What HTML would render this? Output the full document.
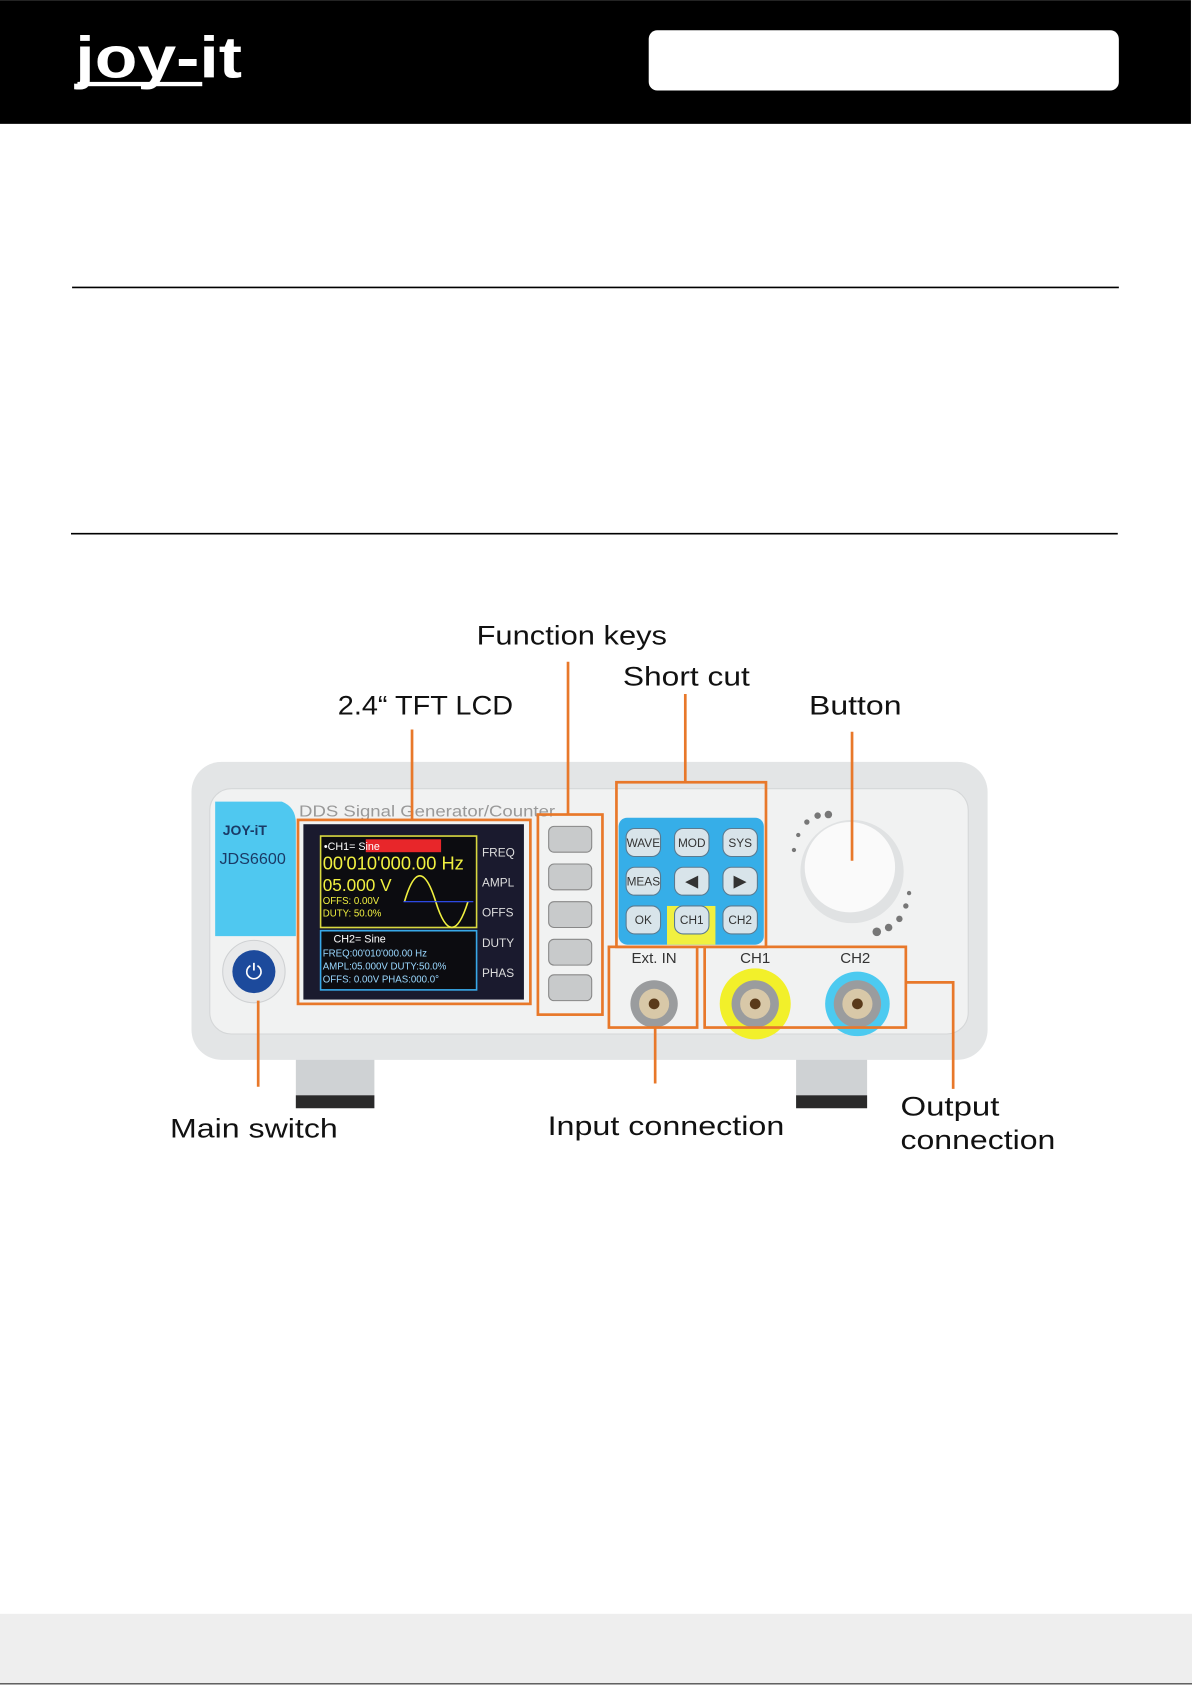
<!DOCTYPE html>
<html><head><meta charset="utf-8"><style>
html,body{margin:0;padding:0;background:#fff}
svg{display:block}
text{font-family:"Liberation Sans",sans-serif}
</style></head><body>
<svg width="1192" height="1685" viewBox="0 0 1108 1566" xmlns="http://www.w3.org/2000/svg">
<rect x="0" y="0" width="1107" height="115" fill="#000"/>
<g fill="#fff">
<text x="70" y="72" font-size="54" font-weight="bold" textLength="155" lengthAdjust="spacingAndGlyphs">joy-it</text>
<rect x="72" y="76" width="116" height="4"/>
<rect x="603" y="28" width="437" height="56" rx="8"/>
</g>
<line x1="67" y1="267" x2="1040" y2="267" stroke="#000" stroke-width="1.5"/>
<line x1="66" y1="496" x2="1039" y2="496" stroke="#000" stroke-width="1.5"/>
<rect x="0" y="1500" width="1108" height="66" fill="#eeeeee"/>
<line x1="0" y1="1565" x2="1108" y2="1565" stroke="#333" stroke-width="1"/>

<!-- device -->
<rect x="275" y="975" width="73" height="55" fill="#cfd2d4"/>
<rect x="275" y="1018" width="73" height="12" fill="#2a2a2a"/>
<rect x="740" y="975" width="66" height="55" fill="#cfd2d4"/>
<rect x="740" y="1018" width="66" height="12" fill="#2a2a2a"/>
<rect x="178" y="708" width="740" height="277" rx="28" fill="#e3e5e6"/>
<rect x="195" y="733" width="705" height="228" rx="20" fill="#f1f2f2" stroke="#d5d7d8"/>
<path d="M200 745 L262 745 Q275 750 275 765 L275 870 L200 870 Z" fill="#4fc8f0"/>
<text x="207" y="776" font-size="13" font-weight="bold" fill="#1a3a66">JOY-iT</text>
<text x="204" y="803" font-size="15" fill="#1a3a66">JDS6600</text>
<circle cx="236" cy="903" r="29" fill="#e8e9ea" stroke="#cfd1d3"/>
<circle cx="236" cy="903" r="20" fill="#1c4a9c"/>
<text x="236" y="910" font-size="20" fill="#fff" text-anchor="middle">⏻</text>
<text x="278" y="759" font-size="15" fill="#999" textLength="238" lengthAdjust="spacingAndGlyphs">DDS Signal Generator/Counter</text>
<!-- LCD -->
<rect x="282" y="766" width="205" height="163" fill="#1a1a2e"/>
<rect x="298" y="777" width="145" height="85" fill="#0c0c10" stroke="#d8d840" stroke-width="1.5"/>
<rect x="340" y="780" width="70" height="12" fill="#e8262a"/>
<text x="301" y="790" font-size="10" fill="#fff">•CH1=       Sine</text>
<text x="300" y="808" font-size="17" fill="#f0f040">00'010'000.00 Hz</text>
<text x="300" y="828" font-size="16" fill="#f0f040">05.000 V</text>
<text x="300" y="840" font-size="9" fill="#f0f040">OFFS: 0.00V</text>
<text x="300" y="852" font-size="9" fill="#f0f040">DUTY: 50.0%</text>
<path d="M376 838 Q390 790 405 838 Q420 886 435 838" fill="none" stroke="#f0f040" stroke-width="1.5"/>
<line x1="375" y1="838" x2="440" y2="838" stroke="#3050ff"/>
<rect x="298" y="865" width="145" height="55" fill="#0c0c10" stroke="#38a8e8" stroke-width="1.5"/>
<text x="310" y="876" font-size="10" fill="#fff">CH2=    Sine</text>
<text x="300" y="889" font-size="9" fill="#9ad8ff">FREQ:00'010'000.00 Hz</text>
<text x="300" y="901" font-size="9" fill="#9ad8ff">AMPL:05.000V DUTY:50.0%</text>
<text x="300" y="913" font-size="9" fill="#9ad8ff">OFFS: 0.00V PHAS:000.0°</text>
<g font-size="11" fill="#ddd">
<text x="448" y="796">FREQ</text><text x="448" y="824">AMPL</text><text x="448" y="852">OFFS</text><text x="448" y="880">DUTY</text><text x="448" y="908">PHAS</text>
</g>
<g fill="#c8cacb" stroke="#888">
<rect x="510" y="768" width="40" height="24" rx="5"/><rect x="510" y="803" width="40" height="24" rx="5"/><rect x="510" y="838" width="40" height="24" rx="5"/><rect x="510" y="873" width="40" height="24" rx="5"/><rect x="510" y="906" width="40" height="24" rx="5"/>
</g>
<!-- keypad -->
<rect x="575" y="760" width="135" height="118" rx="8" fill="#36aee8"/>
<rect x="620" y="842" width="45" height="36" fill="#f0f040"/>
<g fill="#d8e4ea" stroke="#5a7a90">
<rect x="582" y="770" width="32" height="26" rx="8"/><rect x="627" y="770" width="32" height="26" rx="8"/><rect x="672" y="770" width="32" height="26" rx="8"/>
<rect x="582" y="806" width="32" height="26" rx="8"/><rect x="627" y="806" width="32" height="26" rx="8"/><rect x="672" y="806" width="32" height="26" rx="8"/>
<rect x="582" y="842" width="32" height="26" rx="8"/><rect x="627" y="842" width="32" height="26" rx="8"/><rect x="672" y="842" width="32" height="26" rx="8"/>
</g>
<g font-size="11" fill="#333" text-anchor="middle">
<text x="598" y="787">WAVE</text><text x="643" y="787">MOD</text><text x="688" y="787">SYS</text>
<text x="598" y="823">MEAS</text><text x="643" y="824" font-size="16">◀</text><text x="688" y="824" font-size="16">▶</text>
<text x="598" y="859">OK</text><text x="643" y="859">CH1</text><text x="688" y="859">CH2</text>
</g>
<!-- knob -->
<circle cx="792" cy="810" r="48" fill="#e0e2e3"/>
<circle cx="790" cy="806" r="42" fill="#fafafa"/>
<g fill="#777">
<circle cx="738" cy="790" r="2"/><circle cx="742" cy="776" r="2"/><circle cx="750" cy="764" r="2.5"/><circle cx="760" cy="758" r="3"/><circle cx="770" cy="757" r="3.5"/>
<circle cx="845" cy="830" r="2"/><circle cx="842" cy="842" r="2.5"/><circle cx="836" cy="854" r="3"/><circle cx="826" cy="862" r="3.5"/><circle cx="815" cy="866" r="4"/>
</g>
<!-- connectors -->
<text x="608" y="895" font-size="14" fill="#333" text-anchor="middle" font-family="Liberation Serif">Ext. IN</text>
<text x="702" y="895" font-size="14" fill="#333" text-anchor="middle" font-family="Liberation Serif">CH1</text>
<text x="795" y="895" font-size="14" fill="#333" text-anchor="middle" font-family="Liberation Serif">CH2</text>
<circle cx="702" cy="933" r="33" fill="#f2f02a"/>
<circle cx="797" cy="933" r="30" fill="#4ccaf0"/>
<g>
<circle cx="608" cy="933" r="22" fill="#9a9c9e"/><circle cx="608" cy="933" r="14" fill="#d8c8a8"/><circle cx="608" cy="933" r="5" fill="#5a3a1a"/>
<circle cx="702" cy="933" r="22" fill="#9a9c9e"/><circle cx="702" cy="933" r="14" fill="#d8c8a8"/><circle cx="702" cy="933" r="5" fill="#5a3a1a"/>
<circle cx="797" cy="933" r="22" fill="#9a9c9e"/><circle cx="797" cy="933" r="14" fill="#d8c8a8"/><circle cx="797" cy="933" r="5" fill="#5a3a1a"/>
</g>
<!-- orange annotations -->
<g fill="none" stroke="#e8782a" stroke-width="2.5">
<rect x="277" y="762" width="216" height="171"/>
<rect x="500" y="757" width="60" height="186"/>
<rect x="573" y="727" width="139" height="153"/>
<rect x="566" y="880" width="82" height="75"/>
<rect x="655" y="880" width="187" height="75"/>
<line x1="383" y1="678" x2="383" y2="762"/>
<line x1="528" y1="615" x2="528" y2="757"/>
<line x1="637" y1="645" x2="637" y2="727"/>
<line x1="792" y1="680" x2="792" y2="800"/>
<line x1="609" y1="955" x2="609" y2="1007"/>
<line x1="240" y1="930" x2="240" y2="1010"/>
<polyline points="842,913 886,913 886,1012"/>
</g>
<g font-size="25" fill="#111">
<text x="443" y="599" textLength="177" lengthAdjust="spacingAndGlyphs">Function keys</text>
<text x="579" y="637" textLength="118" lengthAdjust="spacingAndGlyphs">Short cut</text>
<text x="314" y="664" textLength="163" lengthAdjust="spacingAndGlyphs">2.4“ TFT LCD</text>
<text x="752" y="664" textLength="86" lengthAdjust="spacingAndGlyphs">Button</text>
<text x="158" y="1057" textLength="156" lengthAdjust="spacingAndGlyphs">Main switch</text>
<text x="509" y="1055" textLength="220" lengthAdjust="spacingAndGlyphs">Input connection</text>
<text x="837" y="1037" textLength="92" lengthAdjust="spacingAndGlyphs">Output</text>
<text x="837" y="1068" textLength="144" lengthAdjust="spacingAndGlyphs">connection</text>
</g>
</svg>
</body></html>
